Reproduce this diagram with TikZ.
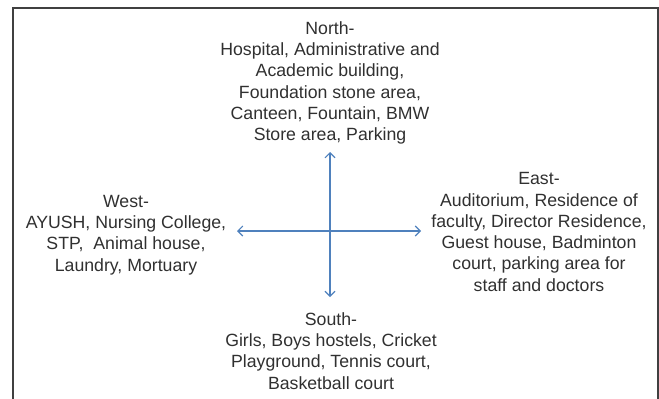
\documentclass[tikz,border=0pt]{standalone}
\usepackage{fontspec}
\setmainfont{Liberation Sans}
\usetikzlibrary{arrows.meta}
\definecolor{txtgray}{HTML}{303030}
\definecolor{arrowblue}{HTML}{4F81BD}
\begin{document}
\begin{tikzpicture}[x=1pt,y=-1pt,
  zone/.style={align=center,text=txtgray,inner sep=0pt,
    font=\fontsize{17.7}{21.3}\selectfont},
  dirarrow/.style={draw=arrowblue,line width=1.1pt,
    {Straight Barb[length=5pt,width=10pt]}-{Straight Barb[length=5pt,width=10pt]}},
  frame/.style={draw=black!75,line width=1.4pt}
]
  \useasboundingbox (0,0) rectangle (659,399);
  % open frame, no bottom edge
  \draw[frame] (13,399) |- (658,8) -- (658,399);

  % the four directions
  \node[zone] (north) at (330,83)
    {North-\\Hospital, Administrative and\\Academic building,\\Foundation stone area,\\Canteen, Fountain, BMW\\Store area, Parking};
  \node[zone] (west) at (126,235)
    {West-\\AYUSH, Nursing College,\\STP,\ \ Animal house,\\Laundry, Mortuary};
  \node[zone] (east) at (539,232)
    {East-\\Auditorium, Residence of\\faculty, Director Residence,\\Guest house, Badminton\\court, parking area for\\staff and doctors};
  \node[zone] (south) at (331,351)
    {South-\\Girls, Boys hostels, Cricket\\Playground, Tennis court,\\Basketball court};

  % arrow ends
  \coordinate (up) at (330,152);
  \coordinate (down) at (330,297);
  \coordinate (left) at (237,231);
  \coordinate (right) at (421,231);

  \draw[dirarrow] (up) -- (down);
  \draw[dirarrow] (left) -- (right);
\end{tikzpicture}
\end{document}
